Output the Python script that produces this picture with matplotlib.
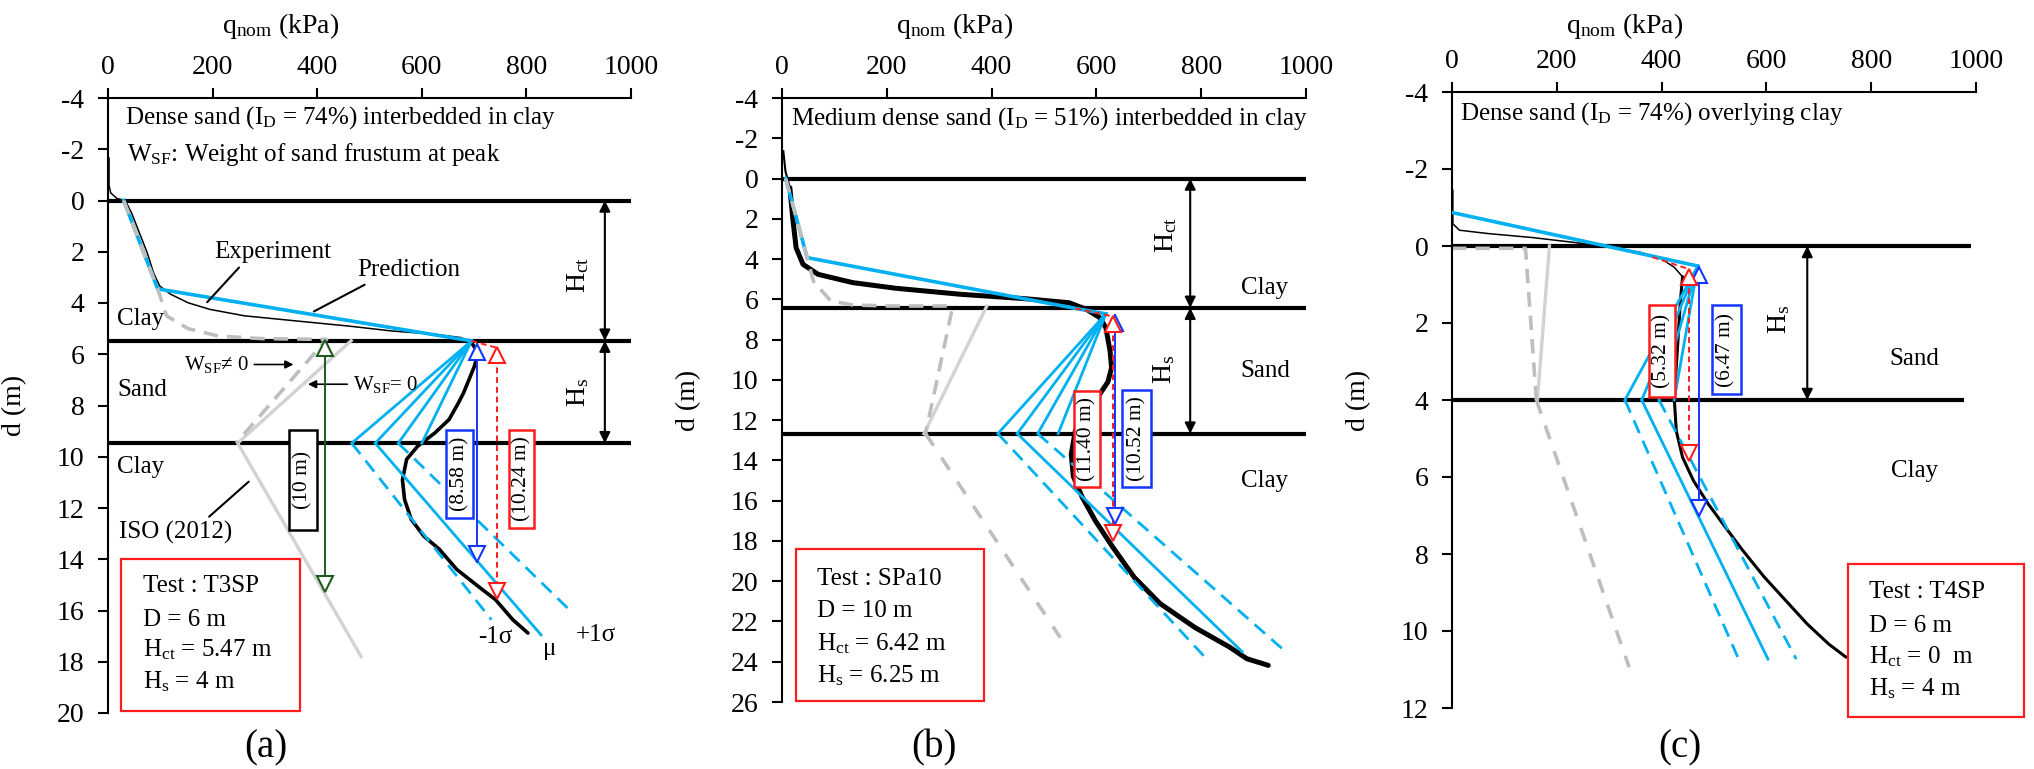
import numpy as np
import matplotlib
matplotlib.use('Agg')  # headless
import matplotlib.pyplot as plt
from matplotlib.patches import Rectangle
from matplotlib.transforms import offset_copy, blended_transform_factory

plt.rcParams['font.family'] = ['Liberation Serif', 'DejaVu Serif']
plt.rcParams['mathtext.fontset'] = 'custom'
plt.rcParams['mathtext.rm'] = 'Liberation Serif'
plt.rcParams['mathtext.it'] = 'Liberation Serif:italic'
plt.rcParams['axes.unicode_minus'] = False

CYAN = '#00B0F0'
GRAY_D = '#BEBEBE'
GRAY_S = '#D2D2D2'
BLUE = '#1436FF'
RED = '#FF1C1C'
GREEN = '#1E5A1E'
FS = 18      # annotation text
TFS = 20     # ticks / axis labels

# ---------------------------
# Panel (a) data : T3SP
# ---------------------------
a_layers = [0, 5.47, 9.47]
a_exp_q = [2, 2, 5, 17, 33, 45, 60, 75, 87, 99, 120, 153, 195, 261, 360, 460, 542, 625, 675, 695,
           708, 700, 690, 680, 670, 652, 625, 592, 571, 563, 567, 580, 604, 633, 667, 708, 741, 774, 803]
a_exp_d = [-1.65, -0.6, -0.3, -0.08, 0, 0.48, 1.26, 2.04, 2.82, 3.34, 3.66, 3.99, 4.25, 4.5, 4.7, 4.9, 5.09, 5.22, 5.35, 5.55,
           5.94, 6.5, 7.0, 7.5, 7.9, 8.55, 9.07, 9.59, 10.1, 10.9, 11.67, 12.45, 13.1, 13.6, 14.4, 15.06, 15.58, 16.36, 16.88]
a_pred_q = [30, 95, 695]
a_pred_d = [0, 3.45, 5.48]
a_fan_q = [466, 511, 555, 600]          # vertices at bottom of sand
a_sig_end_q = [733, 828, 882]           # -1s, mu, +1s
a_sig_end_d = [16.36, 16.95, 15.97]
a_iso_dash_q = [30, 95, 112, 153, 211, 294, 418, 245]
a_iso_dash_d = [0, 3.45, 4.5, 5.0, 5.29, 5.39, 5.42, 9.47]
a_iso_solid_q = [465, 248, 484]
a_iso_solid_d = [5.47, 9.47, 17.8]

# ---------------------------
# Panel (b) data : SPa10
# ---------------------------
b_layers = [0, 6.42, 12.67]
b_exp_q = [2.5, 6.6, 15, 21, 27, 40, 69, 135, 217, 341, 465, 548, 581, 606, 618, 626, 629, 622, 598,
           560, 552, 556, 573, 598, 631, 672, 721, 788, 854, 887, 928]
b_exp_d = [-1.36, -0.36, 0.46, 2.1, 3.44, 4.26, 4.76, 5.17, 5.45, 5.75, 5.97, 6.17, 6.5, 6.9, 7.4, 8.56, 9.39, 10.1, 11.04,
           12.5, 13.7, 14.8, 15.83, 17.0, 18.3, 19.8, 21.1, 22.3, 23.27, 23.85, 24.18]
b_pred_q = [7, 48, 560, 618]
b_pred_d = [0, 3.93, 6.45, 6.72]
b_fan_q = [412, 449, 488, 527]
b_sig_end_q = [808, 878, 961]
b_sig_end_d = [23.8, 23.5, 23.5]
b_iso_dash_q = [7, 48, 60, 93, 135, 201, 316, 325, 274]
b_iso_dash_d = [0, 3.93, 5.1, 6.08, 6.28, 6.33, 6.33, 6.45, 12.67]
b_iso_solid_q = [391, 271]
b_iso_solid_d = [6.33, 12.67]
b_iso_low_q = [274, 531]
b_iso_low_d = [12.67, 22.8]

# ---------------------------
# Panel (c) data : T4SP
# ---------------------------
c_layers = [0, 4]
c_exp_q = [1.6, 1.6, 14, 71, 153, 235, 301, 358, 399, 424, 440, 436, 432, 428, 424, 428, 440, 461, 489,
           522, 555, 596, 637, 678, 719, 752]
c_exp_d = [-1.45, -0.58, -0.41, -0.32, -0.22, -0.09, 0.03, 0.16, 0.33, 0.55, 0.8, 1.41, 2.28, 3.14, 3.92, 4.8, 5.49, 6.1, 6.7,
           7.31, 7.91, 8.6, 9.21, 9.82, 10.34, 10.68]
c_pred_q = [0, 469]
c_pred_d = [-0.87, 0.52]
c_fan_q = [330, 362, 395, 424]
c_sig_end_q = [547, 603, 657]
c_sig_end_d = [10.73, 10.73, 10.73]
c_iso_dash_q = [0, 140, 141, 161]
c_iso_dash_d = [0.06, 0.06, 0.2, 4]
c_iso_solid_q = [186, 163]
c_iso_solid_d = [0, 4]
c_iso_low_q = [161, 338]
c_iso_low_d = [4, 10.94]

# measured lengths (q position, top, bottom)
a_arrows = {'green': (414, 5.47, 15.25), 'blue': (706, 5.6, 14.1), 'red': (744, 5.75, 15.55)}
b_arrows = {'blue': (635, 6.8, 17.16), 'red': (631, 6.85, 17.98)}
c_arrows = {'blue': (471, 0.55, 7.0), 'red': (452, 0.6, 5.58)}


fig = plt.figure(figsize=(20.34, 7.69), dpi=100)
W, H = 2034, 769
ax_a = fig.add_axes([108 / W, 1 - 713 / H, 523 / W, 615 / H])
ax_b = fig.add_axes([782 / W, 1 - 702 / H, 524 / W, 604 / H])
ax_c = fig.add_axes([1452 / W, 1 - 708 / H, 524 / W, 616 / H])


def setup_axes(ax, dmax):
    ax.set_xlim(0, 1000)
    ax.set_ylim(dmax, -4)
    ax.xaxis.tick_top()
    ax.set_xticks(range(0, 1001, 200))
    ax.set_yticks(range(-4, dmax + 1, 2))
    for s in ['right', 'bottom']:
        ax.spines[s].set_visible(False)
    for s in ['left', 'top']:
        ax.spines[s].set_linewidth(1.5)
    ax.tick_params(direction='out', length=7, width=1.5, labelsize=TFS)
    ax.tick_params(axis='x', pad=6)
    ax.tick_params(axis='y', pad=10)
    ax.set_ylabel('d (m)', fontsize=TFS)
    ax.yaxis.set_label_coords(-0.155, 0.5)
    tr = blended_transform_factory(ax.transAxes, fig.transFigure)
    ax.text(0.33, 0.966, 'q$_{\\mathrm{nom}}$ (kPa)', transform=tr, ha='center', va='center', fontsize=TFS)


def draw_experiment(ax, q, d, split_d, lw_top, lw_bot):
    q = np.asarray(q)
    d = np.asarray(d)
    k = int(np.searchsorted(d, split_d))
    ax.plot(q[:k + 1], d[:k + 1], color='black', lw=lw_top, zorder=2)
    ax.plot(q[k:], d[k:], color='black', lw=lw_bot, zorder=2, solid_capstyle='round')


def draw_prediction(ax, pq, pd, fan_q, fan_d, end_q, end_d):
    ax.plot(pq, pd, color=CYAN, lw=2.6, zorder=3)
    for q in fan_q:
        ax.plot([pq[-1], q], [pd[-1], fan_d], color=CYAN, lw=2.0, zorder=3)
    styles = [(0, (5, 3)), '-', (0, (5, 3))]
    for q0, q1, d1, ls in zip(fan_q[:3], end_q, end_d, styles):
        ax.plot([q0, q1], [fan_d, d1], color=CYAN, lw=2.0, ls=ls, zorder=3)


def hollow_arrow(ax, q, d0, d1, color, ls='-', ms=11):
    ax.plot([q, q], [d0, d1], color=color, lw=1.4, ls=ls, zorder=4)
    top = offset_copy(ax.transData, fig=fig, y=-ms / 2, units='points')
    bot = offset_copy(ax.transData, fig=fig, y=ms / 2, units='points')
    ax.plot([q], [d0], marker='^', ms=ms, mfc='white', mec=color, mew=1.5, transform=top, zorder=5)
    ax.plot([q], [d1], marker='v', ms=ms, mfc='white', mec=color, mew=1.5, transform=bot, zorder=5)


def black_arrow(ax, q, d0, d1):
    ax.annotate('', xy=(q, d0), xytext=(q, d1),
                arrowprops=dict(arrowstyle='<|-|>', color='black', lw=1.5, mutation_scale=16,
                                shrinkA=0, shrinkB=0), zorder=4)


def boxed(ax, q0, q1, d0, d1, txt, color):
    ax.add_patch(Rectangle((q0, d0), q1 - q0, d1 - d0, fc='white', ec=color, lw=1.8, zorder=6))
    ax.text((q0 + q1) / 2, (d0 + d1) / 2, txt, rotation=90, ha='center', va='center',
            fontsize=15.5, zorder=7)


def test_box(ax, q0, q1, d0, d1, lines, line_d, tq):
    ax.add_patch(Rectangle((q0, d0), q1 - q0, d1 - d0, fill=False, ec=RED, lw=1.6,
                           clip_on=False, zorder=6))
    for txt, d in zip(lines, line_d):
        ax.text(tq, d, txt, fontsize=FS, va='center', ha='left', zorder=6)


# ---------------------------
# Panel (a)
# ---------------------------
ax = ax_a
setup_axes(ax, 20)
ax.hlines(a_layers, 0, 1000, colors='black', lw=3, zorder=1)
ax.plot(a_iso_solid_q, a_iso_solid_d, color=GRAY_S, lw=2.4, zorder=1.5)
ax.plot(a_iso_dash_q, a_iso_dash_d, color=GRAY_D, lw=2.6, ls=(0, (4, 2.5)), zorder=3.5)
draw_prediction(ax, a_pred_q, a_pred_d, a_fan_q, a_layers[2], a_sig_end_q, a_sig_end_d)
draw_experiment(ax, a_exp_q, a_exp_d, 5.5, 1.1, 2.6)
ax.plot([a_pred_q[-1], a_arrows['red'][0]], [a_pred_d[-1], a_arrows['red'][1]], color=RED, lw=1.4, ls=(0, (3, 2)), zorder=4)
hollow_arrow(ax, *a_arrows['green'], GREEN)
hollow_arrow(ax, *a_arrows['blue'], BLUE)
hollow_arrow(ax, *a_arrows['red'], RED, ls=(0, (3, 2)))
boxed(ax, 346, 399, 8.94, 12.84, '(10 m)', 'black')
boxed(ax, 646, 698, 8.94, 12.39, '(8.58 m)', BLUE)
boxed(ax, 766, 815, 8.94, 12.78, '(10.24 m)', RED)
black_arrow(ax, 950, a_layers[0], a_layers[1])
black_arrow(ax, 950, a_layers[1], a_layers[2])
ax.text(898, 2.9, 'H$_{\\mathrm{ct}}$', rotation=90, ha='center', va='center', fontsize=TFS)
ax.text(898, 7.5, 'H$_{\\mathrm{s}}$', rotation=90, ha='center', va='center', fontsize=TFS)
ax.text(33, -3.22, 'Dense sand (I$_{\\mathrm{D}}$ = 74%) interbedded in clay', fontsize=FS, va='center')
ax.text(37, -1.79, 'W$_{\\mathrm{SF}}$: Weight of sand frustum at peak', fontsize=FS, va='center')
ax.text(17, 4.64, 'Clay', fontsize=FS, va='center')
ax.text(17, 7.4, 'Sand', fontsize=FS, va='center')
ax.text(17, 10.4, 'Clay', fontsize=FS, va='center')
ax.annotate('Experiment', xy=(186, 4.05), xytext=(203, 2.0), fontsize=FS, ha='left', va='center',
            arrowprops=dict(arrowstyle='-', color='black', lw=1.5, relpos=(0.25, 0)))
ax.annotate('Prediction', xy=(389, 4.38), xytext=(476, 2.7), fontsize=FS, ha='left', va='center',
            arrowprops=dict(arrowstyle='-', color='black', lw=1.5, relpos=(0.15, 0)))
ax.annotate('ISO (2012)', xy=(273, 10.9), xytext=(21, 12.97), fontsize=FS, ha='left', va='center',
            arrowprops=dict(arrowstyle='-', color='black', lw=1.5, relpos=(0.75, 1)))
ax.annotate('W$_{\\mathrm{SF}}$≠ 0', xy=(360, 6.4), xytext=(145, 6.4), fontsize=15, ha='left', va='center',
            arrowprops=dict(arrowstyle='-|>', color='black', lw=1.2, mutation_scale=12))
ax.annotate('W$_{\\mathrm{SF}}$= 0', xy=(377, 7.17), xytext=(468, 7.17), fontsize=15, ha='left', va='center',
            arrowprops=dict(arrowstyle='-|>', color='black', lw=1.2, mutation_scale=12))
ax.text(741, 17.05, '-1σ', fontsize=FS, ha='center', va='center')
ax.text(845, 17.5, 'μ', fontsize=FS, ha='center', va='center')
ax.text(932, 16.95, '+1σ', fontsize=FS, ha='center', va='center')
test_box(ax, 25, 367, 13.98, 19.94,
         ['Test : T3SP', 'D = 6 m', 'H$_{\\mathrm{ct}}$ = 5.47 m', 'H$_{\\mathrm{s}}$ = 4 m'],
         [15.06, 16.36, 17.53, 18.77], 66)

# ---------------------------
# Panel (b)
# ---------------------------
ax = ax_b
setup_axes(ax, 26)
ax.hlines(b_layers, 0, 1000, colors='black', lw=3, zorder=1)
ax.plot(b_iso_solid_q, b_iso_solid_d, color=GRAY_S, lw=2.4, zorder=1.5)
ax.plot(b_iso_dash_q, b_iso_dash_d, color=GRAY_D, lw=2.6, ls=(0, (4, 2.5)), zorder=3.5)
ax.plot(b_iso_low_q, b_iso_low_d, color=GRAY_D, lw=2.6, ls=(0, (4, 4)), zorder=1.5)
draw_prediction(ax, b_pred_q, b_pred_d, b_fan_q, b_layers[2], b_sig_end_q, b_sig_end_d)
draw_experiment(ax, b_exp_q, b_exp_d, 0.3, 1.5, 3.6)
ax.plot([b_pred_q[-2], b_arrows['red'][0]], [b_pred_d[-2], b_arrows['red'][1]], color=RED, lw=1.4, ls=(0, (3, 2)), zorder=4)
hollow_arrow(ax, *b_arrows['blue'], BLUE)
hollow_arrow(ax, *b_arrows['red'], RED, ls=(0, (3, 2)))
boxed(ax, 558, 607, 10.55, 15.34, '(11.40 m)', RED)
boxed(ax, 649, 705, 10.51, 15.3, '(10.52 m)', BLUE)
black_arrow(ax, 779, b_layers[0], b_layers[1])
black_arrow(ax, 779, b_layers[1], b_layers[2])
ax.text(734, 2.8, 'H$_{\\mathrm{ct}}$', rotation=90, ha='center', va='center', fontsize=TFS)
ax.text(730, 9.5, 'H$_{\\mathrm{s}}$', rotation=90, ha='center', va='center', fontsize=TFS)
ax.text(17, -3.0, 'Medium dense sand (I$_{\\mathrm{D}}$ = 51%) interbedded in clay', fontsize=FS, va='center')
ax.text(875, 5.42, 'Clay', fontsize=FS, va='center')
ax.text(875, 9.55, 'Sand', fontsize=FS, va='center')
ax.text(875, 15.0, 'Clay', fontsize=FS, va='center')
test_box(ax, 27, 385, 18.4, 25.95,
         ['Test : SPa10', 'D = 10 m', 'H$_{\\mathrm{ct}}$ = 6.42 m', 'H$_{\\mathrm{s}}$ = 6.25 m'],
         [19.9, 21.5, 23.1, 24.7], 67)

# ---------------------------
# Panel (c)
# ---------------------------
ax = ax_c
setup_axes(ax, 12)
ax.hlines(c_layers[0], 0, 990, colors='black', lw=3, zorder=1)
ax.hlines(c_layers[1], 0, 977, colors='black', lw=3, zorder=1)
ax.plot(c_iso_solid_q, c_iso_solid_d, color=GRAY_S, lw=2.4, zorder=1.5)
ax.plot(c_iso_dash_q, c_iso_dash_d, color=GRAY_D, lw=2.6, ls=(0, (4, 2.5)), zorder=1.5)
ax.plot(c_iso_low_q, c_iso_low_d, color=GRAY_D, lw=2.6, ls=(0, (4, 3.5)), zorder=1.5)
draw_prediction(ax, c_pred_q, c_pred_d, c_fan_q, c_layers[1], c_sig_end_q, c_sig_end_d)
draw_experiment(ax, c_exp_q, c_exp_d, 0.6, 1.1, 2.2)
ax.plot([383, c_arrows['red'][0]], [0.29, c_arrows['red'][1]], color=RED, lw=1.4, ls=(0, (3, 2)), zorder=4)
hollow_arrow(ax, *c_arrows['blue'], BLUE)
hollow_arrow(ax, *c_arrows['red'], RED, ls=(0, (3, 2)))
boxed(ax, 375, 425, 1.54, 3.92, '(5.32 m)', RED)
boxed(ax, 496, 551, 1.54, 3.84, '(6.47 m)', BLUE)
black_arrow(ax, 678, c_layers[0], c_layers[1])
ax.text(625, 1.9, 'H$_{\\mathrm{s}}$', rotation=90, ha='center', va='center', fontsize=TFS)
ax.text(16, -3.44, 'Dense sand (I$_{\\mathrm{D}}$ = 74%) overlying clay', fontsize=FS, va='center')
ax.text(834, 2.93, 'Sand', fontsize=FS, va='center')
ax.text(838, 5.84, 'Clay', fontsize=FS, va='center')
test_box(ax, 756, 1092, 8.26, 12.24,
         ['Test : T4SP', 'D = 6 m', 'H$_{\\mathrm{ct}}$ = 0  m', 'H$_{\\mathrm{s}}$ = 4 m'],
         [9.0, 9.86, 10.68, 11.5], 795)

# panel letters
for x, lab in [(266, '(a)'), (934, '(b)'), (1680, '(c)')]:
    fig.text(x / W, 0.027, lab, fontsize=28, ha='center', va='center')

fig.savefig('out.png', dpi=100)
